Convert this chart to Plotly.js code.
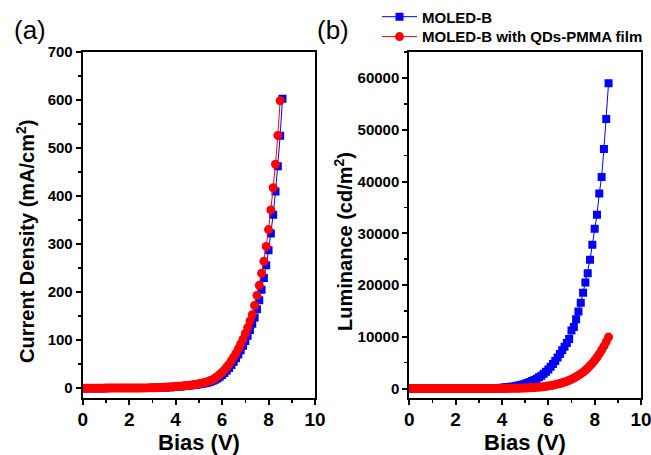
<!DOCTYPE html>
<html>
<head>
<meta charset="utf-8">
<script src="https://cdn.plot.ly/plotly-3.0.1.min.js"></script>
<style>
  html, body { margin: 0; padding: 0; background: #fff; }
  #chart { width: 651px; height: 455px; }
</style>
</head>
<body>
<div id="chart"></div>
<script>
// Bias (V)
const bias = [
  0.0,0.1,0.2,0.3,0.4,0.5,0.6,0.7,0.8,0.9,
  1.0,1.1,1.2,1.3,1.4,1.5,1.6,1.7,1.8,1.9,
  2.0,2.1,2.2,2.3,2.4,2.5,2.6,2.7,2.8,2.9,
  3.0,3.1,3.2,3.3,3.4,3.5,3.6,3.7,3.8,3.9,
  4.0,4.1,4.2,4.3,4.4,4.5,4.6,4.7,4.8,4.9,
  5.0,5.1,5.2,5.3,5.4,5.5,5.6,5.7,5.8,5.9,
  6.0,6.1,6.2,6.3,6.4,6.5,6.6,6.7,6.8,6.9,
  7.0,7.1,7.2,7.3,7.4,7.5,7.6,7.7,7.8,7.9,
  8.0,8.1,8.2,8.3,8.4,8.5,8.6
];

// Current density (mA/cm2), MOLED-B
const jBlue = [
  0.01,0.01,0.02,0.02,0.03,0.03,0.04,0.05,0.05,0.06,
  0.07,0.08,0.09,0.10,0.11,0.12,0.14,0.15,0.17,0.19,
  0.21,0.23,0.26,0.29,0.32,0.36,0.40,0.45,0.50,0.56,
  0.63,0.72,0.82,0.94,1.08,1.24,1.42,1.70,2.00,2.40,
  2.9,3.3,3.6,4.0,4.4,4.9,5.4,6.0,6.5,7.2,
  7.9,8.6,9.6,10.6,12.0,13.4,15.4,17.3,20.2,23.5,
  27.4,31.7,36.5,42,48,55,62,70,79,88,
  98,109,121,134,147,164,183,205,229,256,
  287,322,361,409,462,525,602
];

// Current density (mA/cm2), MOLED-B with QDs-PMMA film (0 - 8.5 V)
const jRed = [
  0.01,0.02,0.02,0.03,0.03,0.04,0.05,0.05,0.06,0.07,
  0.08,0.09,0.10,0.11,0.12,0.14,0.15,0.17,0.19,0.21,
  0.23,0.26,0.29,0.32,0.36,0.40,0.45,0.50,0.56,0.63,
  0.7,0.9,1.1,1.3,1.5,1.8,2.1,2.4,2.7,3.0,
  3.4,3.8,4.2,4.6,5.1,5.6,6.2,6.8,7.5,8.2,
  9.0,10.0,11.0,12.5,14.0,16.0,18.0,21.0,24.5,28.5,
  33,38,44,50,57,65,73,82,92,102,
  114,126,140,153,172,193,214,239,264,295,
  330,371,417,466,526,598
];

// Luminance (cd/m2), MOLED-B
const lBlue = [
  0,0,0,0,0,0,0,0,0,0,
  0,0,0,0,0,0,0,0,0,0,
  0,0,0.1,0.2,0.5,1.0,1.7,2.8,4.3,6.5,
  9.5,13.5,19,26,35,46,60,78,100,128,
  160,195,240,290,350,420,500,590,690,810,
  950,1100,1270,1460,1680,1920,2200,2500,2850,3250,
  3700,4200,4750,5350,6000,6700,7400,8100,8800,9600,
  11200,11900,13400,14900,16600,18500,20500,22300,24900,27800,
  30900,33600,37700,40900,46300,52100,59000
];

// Luminance (cd/m2), MOLED-B with QDs-PMMA film
const lRed = [
  0,0,0,0,0,0,0,0,0,0,
  0,0,0,0,0,0,0,0,0,0,
  0,0,0,0,0,0.1,0.2,0.35,0.6,1.0,
  1.5,2.2,3.0,4.0,5.3,6.8,8.5,10.5,13,16,
  19.5,23.5,28,33,39,46,54,64,75,89,
  105,124,146,172,202,236,275,320,372,430,
  495,570,655,750,860,980,1110,1260,1420,1600,
  1800,2020,2270,2550,2850,3180,3550,3950,4400,4900,
  5450,6050,6700,7450,8200,9050,9940
];

const seriesNames = ['MOLED-B', 'MOLED-B with QDs-PMMA film'];
const xTickVals = [0, 2, 4, 6, 8, 10];
const yTickValsJ = [0, 100, 200, 300, 400, 500, 600, 700];
const yTickValsL = [0, 10000, 20000, 30000, 40000, 50000, 60000];

const BLUE = '#0000FF';
const RED = '#FF0000';
const FONT = 'Liberation Sans';
const bold = s => '<b>' + s + '</b>';

const blueStyle = {
  mode: 'lines+markers',
  line: {color: BLUE, width: 1},
  marker: {symbol: 'square', size: 8, color: BLUE, line: {width: 0}}
};
const redStyle = {
  mode: 'lines+markers',
  line: {color: RED, width: 1},
  marker: {symbol: 'circle', size: 9, color: RED, line: {width: 0}}
};

const traces = [
  Object.assign({x: bias, y: jBlue, name: bold(seriesNames[0]), xaxis: 'x', yaxis: 'y', showlegend: false}, blueStyle),
  Object.assign({x: bias.slice(0, jRed.length), y: jRed, name: bold(seriesNames[1]), xaxis: 'x', yaxis: 'y', showlegend: false}, redStyle),
  Object.assign({x: bias, y: lBlue, name: bold(seriesNames[0]), xaxis: 'x2', yaxis: 'y2', showlegend: true, legend: 'legend'}, blueStyle),
  Object.assign({x: bias, y: lRed, name: bold(seriesNames[1]), xaxis: 'x2', yaxis: 'y2', showlegend: true, legend: 'legend2'}, redStyle)
];

function xAxis(domain, anchor) {
  return {
    domain: domain, anchor: anchor, range: [0, 10],
    tickvals: xTickVals, ticktext: xTickVals.map(v => bold(String(v))),
    showline: true, linecolor: '#000', linewidth: 2, mirror: true,
    ticks: 'outside', ticklen: 5, tickwidth: 2, tickcolor: '#000',
    minor: {dtick: 1, ticks: 'outside', ticklen: 3, tickwidth: 1.5, tickcolor: '#000'},
    tickfont: {family: FONT, size: 19, color: '#000', weight: 700},
    ticklabelstandoff: -2,
    ticklabeloverflow: 'allow',
    showgrid: false, zeroline: false, fixedrange: true
  };
}
function yAxis(domain, anchor, range, tickvals, minorDtick) {
  return {
    domain: domain, anchor: anchor, range: range,
    tickvals: tickvals, ticktext: tickvals.map(v => bold(String(v))),
    showline: true, linecolor: '#000', linewidth: 2, mirror: true,
    ticks: 'outside', ticklen: 5, tickwidth: 2, tickcolor: '#000',
    minor: {dtick: minorDtick, ticks: 'outside', ticklen: 3, tickwidth: 1.5, tickcolor: '#000'},
    tickfont: {family: FONT, size: 15, color: '#000', weight: 700},
    ticklabeloverflow: 'allow',
    showgrid: false, zeroline: false, fixedrange: true
  };
}

const W = 651, H = 455;
const yDom = [1 - 398 / H, 1 - 50 / H];

function legendAt(yPix) {
  return {
    x: 377 / W, y: 1 - yPix / H, xanchor: 'left', yanchor: 'middle',
    bgcolor: 'rgba(0,0,0,0)', borderwidth: 0,
    font: {family: FONT, size: 15, color: '#000'},
    itemwidth: 35,
    itemclick: false
  };
}

const layout = {
  width: W, height: H,
  margin: {l: 0, r: 0, t: 0, b: 0},
  paper_bgcolor: '#fff', plot_bgcolor: '#fff',
  font: {family: FONT, color: '#000'},
  xaxis: xAxis([82.7 / W, 315 / W], 'y'),
  yaxis: yAxis(yDom, 'x', [-21, 700], yTickValsJ, 50),
  xaxis2: xAxis([409.3 / W, 641 / W], 'y2'),
  yaxis2: yAxis(yDom, 'x2', [-1870, 65070], yTickValsL, 5000),
  showlegend: true,
  legend: legendAt(15),
  legend2: legendAt(35),
  annotations: [
    {text: '(a)', xref: 'paper', yref: 'paper', x: 30 / W, y: 1 - 28 / H, xanchor: 'center', yanchor: 'middle', showarrow: false, font: {family: FONT, size: 26, color: '#000'}},
    {text: '(b)', xref: 'paper', yref: 'paper', x: 333 / W, y: 1 - 28 / H, xanchor: 'center', yanchor: 'middle', showarrow: false, font: {family: FONT, size: 26, color: '#000'}},
    {text: bold('Bias (V)'), xref: 'paper', yref: 'paper', x: 199 / W, y: 1 - 442 / H, xanchor: 'center', yanchor: 'middle', showarrow: false, font: {family: FONT, size: 22, color: '#000'}},
    {text: bold('Bias (V)'), xref: 'paper', yref: 'paper', x: 525.2 / W, y: 1 - 442 / H, xanchor: 'center', yanchor: 'middle', showarrow: false, font: {family: FONT, size: 22, color: '#000'}},
    {text: bold('Current Density (mA/cm<sup>2</sup>)'), textangle: -90, xref: 'paper', yref: 'paper', x: 26 / W, y: 1 - 241 / H, xanchor: 'center', yanchor: 'middle', showarrow: false, font: {family: FONT, size: 20, color: '#000'}},
    {text: bold('Luminance (cd/m<sup>2</sup>)'), textangle: -90, xref: 'paper', yref: 'paper', x: 344 / W, y: 1 - 241 / H, xanchor: 'center', yanchor: 'middle', showarrow: false, font: {family: FONT, size: 20, color: '#000'}}
  ]
};

Plotly.newPlot('chart', traces, layout, {displayModeBar: false, staticPlot: true});
</script>
</body>
</html>
